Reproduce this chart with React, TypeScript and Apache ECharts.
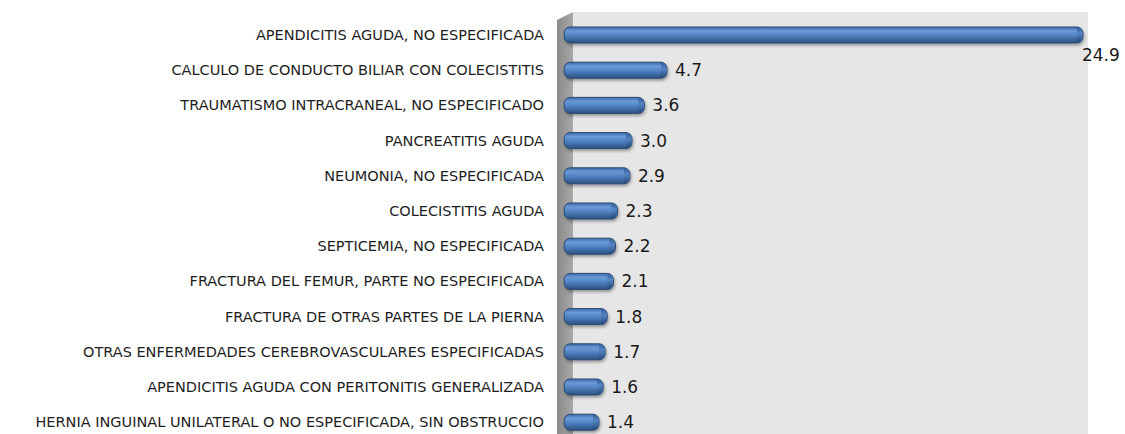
import React, { useEffect, useRef } from "react";
import * as echarts from "echarts";

const categories: string[] = [
  "APENDICITIS AGUDA, NO ESPECIFICADA",
  "CALCULO DE CONDUCTO BILIAR CON COLECISTITIS",
  "TRAUMATISMO INTRACRANEAL, NO ESPECIFICADO",
  "PANCREATITIS AGUDA",
  "NEUMONIA, NO ESPECIFICADA",
  "COLECISTITIS AGUDA",
  "SEPTICEMIA, NO ESPECIFICADA",
  "FRACTURA DEL FEMUR, PARTE NO ESPECIFICADA",
  "FRACTURA DE OTRAS PARTES DE LA PIERNA",
  "OTRAS ENFERMEDADES CEREBROVASCULARES ESPECIFICADAS",
  "APENDICITIS AGUDA CON PERITONITIS GENERALIZADA",
  "HERNIA INGUINAL UNILATERAL O NO ESPECIFICADA, SIN OBSTRUCCIO",
];

const values: number[] = [24.9, 4.7, 3.6, 3.0, 2.9, 2.3, 2.2, 2.1, 1.8, 1.7, 1.6, 1.4];

export default function App() {
  const ref = useRef<HTMLDivElement>(null);

  useEffect(() => {
    if (!ref.current) return;
    const chart = echarts.init(ref.current, null, { renderer: "svg" });
    const W = 1125;
    const barH = 16;
    const barFill = new echarts.graphic.LinearGradient(0, 0, 0, 1, [
      { offset: 0, color: "#3d6ba8" },
      { offset: 0.25, color: "#6b9ad8" },
      { offset: 0.55, color: "#4f80c0" },
      { offset: 1, color: "#2b4f80" },
    ]);
    const capFill = new echarts.graphic.LinearGradient(0, 0, 0, 1, [
      { offset: 0, color: "#35609a" },
      { offset: 0.4, color: "#5585c4" },
      { offset: 1, color: "#274a78" },
    ]);

    chart.setOption({
      animation: false,
      backgroundColor: "#ffffff",
      graphic: [
        {
          type: "rect",
          z: -10,
          shape: { x: 573, y: 12, width: 515, height: 460 },
          style: { fill: "#e6e6e6" },
          silent: true,
        },
        {
          type: "polygon",
          z: -9,
          shape: { points: [[557, 20], [573, 12], [573, 470], [557, 470]] },
          style: {
            fill: new echarts.graphic.LinearGradient(0, 0, 1, 0, [
              { offset: 0, color: "#8a8a8a" },
              { offset: 1, color: "#a8a8a8" },
            ]),
          },
          silent: true,
        },
      ],
      grid: { left: 564, top: 17.4, width: 521, height: 422.4, containLabel: false },
      xAxis: {
        type: "value",
        min: -0.3,
        max: 25,
        show: false,
      },
      yAxis: {
        type: "category",
        inverse: true,
        data: categories,
        axisLine: { show: false },
        axisTick: { show: false },
        splitLine: { show: false },
        axisLabel: {
          margin: 20,
          color: "#1e1e1e",
          fontFamily: "DejaVu Sans",
          fontSize: 14.5,
        },
      },
      series: [
        {
          type: "custom",
          clip: false,
          encode: { x: 0, y: 1 },
          data: values.map((v, i) => [v, i]),
          renderItem: (params: any, api: any) => {
            const v = api.value(0);
            const idx = api.value(1);
            const end = api.coord([v, idx]);
            const start = api.coord([0, idx]);
            const x0 = start[0] - 6;
            const y0 = end[1] - barH / 2;
            const w = end[0] - x0;
            const overflow = end[0] + 50 > W;
            return {
              type: "group",
              children: [
                {
                  type: "rect",
                  shape: { x: x0, y: y0, width: w, height: barH, r: 6 },
                  style: {
                    fill: barFill,
                    stroke: "#2a4a74",
                    lineWidth: 1,
                    shadowBlur: 3,
                    shadowOffsetY: 2,
                    shadowOffsetX: 1,
                    shadowColor: "rgba(0,0,0,0.35)",
                  },
                },
                {
                  type: "rect",
                  shape: { x: end[0] - 6, y: y0 + 0.5, width: 5.5, height: barH - 1, r: [0, 5, 5, 0] },
                  style: { fill: capFill },
                },
                {
                  type: "text",
                  x: overflow ? end[0] - 1 : end[0] + 8,
                  y: overflow ? end[1] + 20 : end[1],
                  style: {
                    text: v.toFixed(1),
                    fill: "#1a1a1a",
                    font: "17px 'DejaVu Sans'",
                    verticalAlign: "middle",
                    align: "left",
                  },
                },
              ],
            };
          },
        },
      ],
    });
    return () => chart.dispose();
  }, []);

  return (
    <div
      style={{
        position: "fixed",
        left: 0,
        top: 0,
        width: 1125,
        height: 434,
        overflow: "hidden",
        background: "#fff",
      }}
    >
      <div ref={ref} style={{ width: 1125, height: 470 }} />
    </div>
  );
}
